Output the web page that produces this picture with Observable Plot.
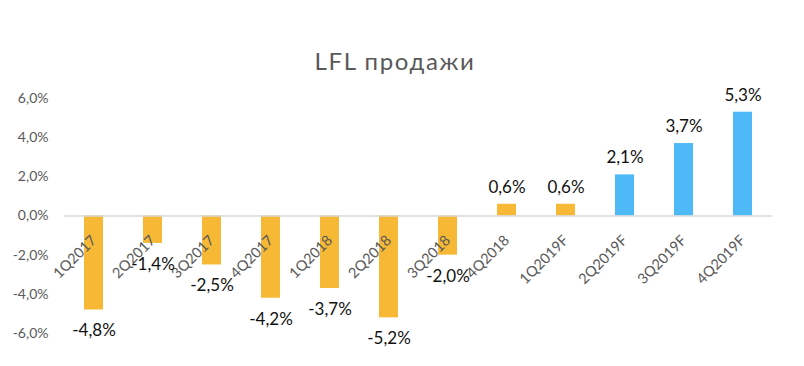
<!DOCTYPE html>
<html>
<head>
<meta charset="utf-8">
<script src="https://cdn.jsdelivr.net/npm/d3@7"></script>
<script src="https://cdn.jsdelivr.net/npm/@observablehq/plot@0.6"></script>
<style>
  html, body { margin: 0; padding: 0; background: #fff; }
  #wrap { width: 804px; height: 366px; position: relative; }
  #title { height: 80px; box-sizing: border-box; padding-top: 49px; text-align: center;
           font-family: Lato, "Open Sans", sans-serif; font-size: 24px; line-height: 24px; letter-spacing: 1.6px;
           color: #595959; padding-right: 14px; }
  svg { display: block; }
</style>
</head>
<body>
<div id="wrap">
  <div id="title">LFL продажи</div>
  <div id="chart"></div>
</div>
<script>
const categories = ["1Q2017","2Q2017","3Q2017","4Q2017","1Q2018","2Q2018","3Q2018","4Q2018","1Q2019F","2Q2019F","3Q2019F","4Q2019F"];
const values = [-4.8,-1.4,-2.5,-4.2,-3.7,-5.2,-2.0,0.6,0.6,2.1,3.7,5.3];
const kinds = ["fact","fact","fact","fact","fact","fact","fact","fact","fact","forecast","forecast","forecast"];
const yTicks = [-6,-4,-2,0,2,4,6];

const data = categories.map((c, i) => ({cat: c, value: values[i], kind: kinds[i]}));
const fmt = v => v.toFixed(1).replace(".", ",") + "%";
const font = "Lato, 'Open Sans', sans-serif";

const chart = Plot.plot({
  width: 804,
  height: 286,
  marginLeft: 64,
  marginRight: 32,
  marginTop: 18,
  marginBottom: 33,
  style: {fontFamily: font, background: "#fff"},
  x: {domain: categories, paddingInner: 0.68, paddingOuter: 0.34, axis: null},
  y: {domain: [-6, 6], axis: null},
  color: {domain: ["fact","forecast"], range: ["#F7B935","#4DB9F7"]},
  marks: [
    Plot.text(yTicks, {y: d => d, text: d => fmt(d), frameAnchor: "left",
                fontSize: 14, fill: "#595959", textAnchor: "end", dx: -16, ariaLabel: "yticks"}),
    Plot.barY(data, {x: "cat", y: "value", fill: "kind"}),
    Plot.ruleY([0], {stroke: "#d9d9d9", strokeWidth: 1.5}),
    Plot.text(data, {x: "cat", y: () => 0, text: "cat", rotate: -45, textAnchor: "end",
                     dx: 0, dy: 22, fontSize: 14.5, fill: "#595959", ariaLabel: "xlabels"}),
    Plot.text(data.filter(d => d.value < 0), {x: "cat", y: "value", text: d => fmt(d.value),
                     dy: 21, fontSize: 17, fill: "#111", ariaLabel: "vlabels"}),
    Plot.text(data.filter(d => d.value >= 0), {x: "cat", y: "value", text: d => fmt(d.value),
                     dy: -17, fontSize: 17, fill: "#111", ariaLabel: "vlabels"})
  ]
});
d3.select(chart).selectAll('g[aria-label="xlabels"]').attr("letter-spacing", "0.9px");
d3.select(chart).selectAll('g[aria-label="yticks"]').attr("letter-spacing", "0.3px");
document.getElementById("chart").appendChild(chart);
</script>
</body>
</html>
